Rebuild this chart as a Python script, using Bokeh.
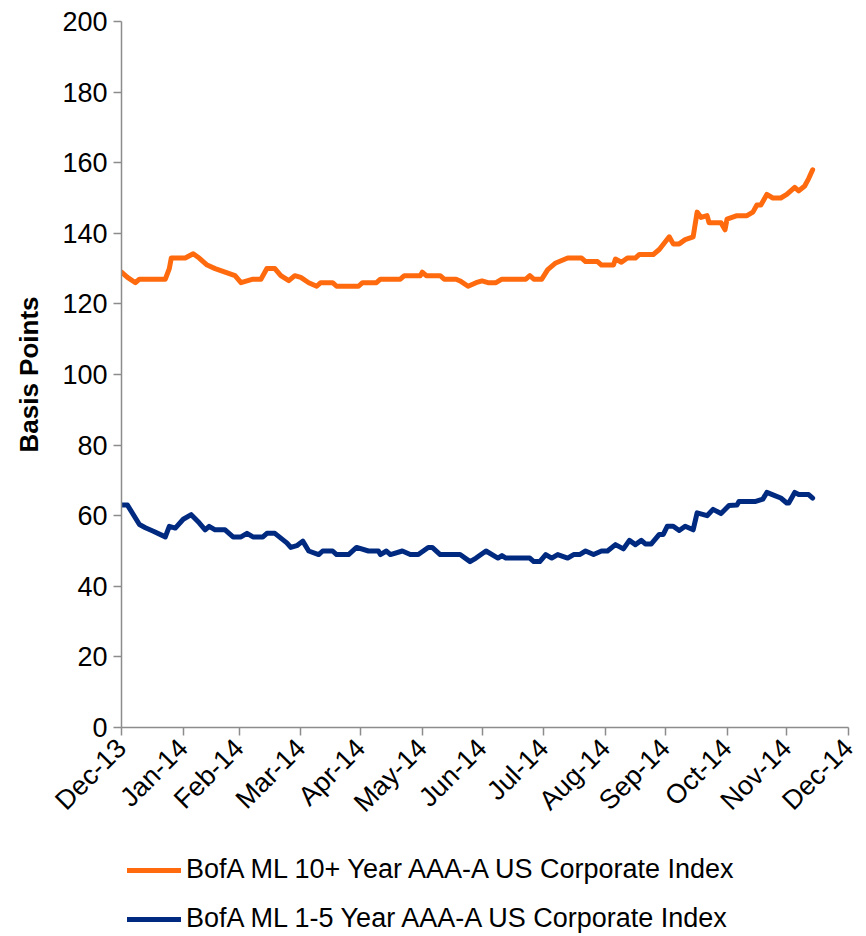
import pandas as pd
from bokeh.plotting import figure
from bokeh.layouts import column
from bokeh.models import (Range1d, FixedTicker, DatetimeTickFormatter, Legend, LegendItem,
                          ColumnDataSource)
from bokeh.embed import file_html
from bokeh.resources import INLINE
import math

# ---------------- data ----------------
long_dates = [
    "2013-12-31", "2014-01-03", "2014-01-07", "2014-01-09", "2014-01-22", "2014-01-24", "2014-01-25",
    "2014-02-01", "2014-02-05", "2014-02-08", "2014-02-12", "2014-02-16", "2014-02-21", "2014-02-26",
    "2014-03-01", "2014-03-04", "2014-03-07", "2014-03-11", "2014-03-14", "2014-03-18", "2014-03-21",
    "2014-03-25", "2014-03-28", "2014-03-31", "2014-04-04", "2014-04-08", "2014-04-10", "2014-04-16",
    "2014-04-18", "2014-04-29", "2014-05-01", "2014-05-08", "2014-05-10", "2014-05-20", "2014-05-22",
    "2014-05-30", "2014-05-31", "2014-06-02", "2014-06-09", "2014-06-11", "2014-06-17", "2014-06-19",
    "2014-06-23", "2014-06-27", "2014-06-30", "2014-07-03", "2014-07-07", "2014-07-10", "2014-07-22",
    "2014-07-24", "2014-07-26", "2014-07-30", "2014-08-02", "2014-08-06", "2014-08-12", "2014-08-19",
    "2014-08-21", "2014-08-27", "2014-08-29", "2014-09-04", "2014-09-05", "2014-09-08", "2014-09-11",
    "2014-09-15", "2014-09-17", "2014-09-24", "2014-09-27", "2014-10-02", "2014-10-04", "2014-10-07",
    "2014-10-10", "2014-10-14", "2014-10-16", "2014-10-18", "2014-10-21", "2014-10-22", "2014-10-28",
    "2014-10-30", "2014-10-31", "2014-11-05", "2014-11-10", "2014-11-13", "2014-11-15", "2014-11-17",
    "2014-11-20", "2014-11-23", "2014-11-27", "2014-11-30", "2014-12-04", "2014-12-06", "2014-12-09",
    "2014-12-11", "2014-12-13",
]
long_values = [
    129, 127.5, 126, 127, 127, 130, 133,
    133, 134.2, 133, 131, 130, 129, 128,
    126, 126.5, 127, 127, 130, 130, 128,
    126.6, 128, 127.5, 126, 125, 126, 126,
    125, 125, 126, 126, 127, 127, 128,
    128, 129, 128, 128, 127, 127, 126.5,
    125, 126, 126.5, 126, 126, 127, 127,
    128, 127, 127, 129.7, 131.6, 133, 133,
    132, 132, 131, 131, 132.7, 131.8, 133,
    133, 134, 134, 135.4, 139, 137, 137,
    138.2, 139, 146, 144.5, 145, 143, 143,
    141, 144, 145, 145, 146, 148, 148,
    151, 150, 150, 151, 153, 152, 153.4,
    155.5, 158,
]

short_dates = [
    "2013-12-31", "2014-01-03", "2014-01-09", "2014-01-12", "2014-01-16", "2014-01-22", "2014-01-24",
    "2014-01-27", "2014-01-31", "2014-02-04", "2014-02-08", "2014-02-11", "2014-02-13", "2014-02-16",
    "2014-02-21", "2014-02-25", "2014-03-01", "2014-03-04", "2014-03-07", "2014-03-12", "2014-03-14",
    "2014-03-18", "2014-03-24", "2014-03-26", "2014-03-29", "2014-04-01", "2014-04-04", "2014-04-09",
    "2014-04-11", "2014-04-16", "2014-04-18", "2014-04-24", "2014-04-28", "2014-05-04", "2014-05-09",
    "2014-05-10", "2014-05-13", "2014-05-15", "2014-05-21", "2014-05-25", "2014-05-29", "2014-06-03",
    "2014-06-05", "2014-06-09", "2014-06-19", "2014-06-24", "2014-06-27", "2014-07-02", "2014-07-08",
    "2014-07-10", "2014-07-12", "2014-07-24", "2014-07-26", "2014-07-29", "2014-08-01", "2014-08-04",
    "2014-08-07", "2014-08-12", "2014-08-15", "2014-08-18", "2014-08-21", "2014-08-25", "2014-08-29",
    "2014-09-01", "2014-09-05", "2014-09-09", "2014-09-12", "2014-09-15", "2014-09-18", "2014-09-20",
    "2014-09-23", "2014-09-27", "2014-09-29", "2014-10-01", "2014-10-04", "2014-10-07", "2014-10-10",
    "2014-10-14", "2014-10-16", "2014-10-21", "2014-10-24", "2014-10-28", "2014-11-01", "2014-11-05",
    "2014-11-06", "2014-11-14", "2014-11-18", "2014-11-20", "2014-11-24", "2014-11-27", "2014-11-30",
    "2014-12-01", "2014-12-04", "2014-12-06", "2014-12-11", "2014-12-13",
]
short_values = [
    63, 63, 57.5, 56.6, 55.6, 54, 57,
    56.5, 59, 60.3, 58, 56, 57, 56,
    56, 54, 54, 55, 54, 54, 55,
    55, 52.3, 51, 51.5, 52.8, 50, 49,
    50, 50, 49, 49, 51, 50, 50,
    49, 50, 49, 50, 49, 49, 51,
    51, 49, 49, 47, 48, 50, 48,
    48.7, 48, 48, 47, 47, 49, 48,
    49, 48, 49, 49, 50, 49, 50,
    50, 51.8, 50.6, 53, 51.8, 53, 52,
    52, 54.7, 54.7, 57, 57, 55.8, 57,
    56, 60.8, 60, 61.8, 60.6, 62.9, 63,
    64, 64, 64.7, 66.6, 65.7, 65, 63.6,
    63.6, 66.6, 66, 66, 65,
]

series_names = ["BofA ML 10+ Year AAA-A US Corporate Index",
                "BofA ML 1-5 Year AAA-A US Corporate Index"]
series_colors = ["#FF6A0E", "#002A80"]

x_tick_dates = ["2013-12-31", "2014-01-31", "2014-02-28", "2014-03-31", "2014-04-30", "2014-05-31",
                "2014-06-30", "2014-07-31", "2014-08-31", "2014-09-30", "2014-10-31", "2014-11-30",
                "2014-12-31"]
y_ticks = [0, 20, 40, 60, 80, 100, 120, 140, 160, 180, 200]
y_label = "Basis Points"

# ---------------- figure ----------------
FONT = "Liberation Sans"
AXIS_COLOR = "#8C8C8C"
W = 862

def ms(s):
    return pd.Timestamp(s).value / 1e6

p = figure(width=W, height=837, x_axis_type="datetime",
           output_backend="svg", toolbar_location=None,
           x_range=Range1d(ms(x_tick_dates[0]), ms(x_tick_dates[-1])),
           y_range=Range1d(0, 200),
           min_border_left=121, min_border_right=14, min_border_top=21, min_border_bottom=110)
p.outline_line_color = None
p.grid.visible = False
p.background_fill_color = "white"
p.border_fill_color = "white"

src_long = ColumnDataSource(dict(x=pd.to_datetime(long_dates), y=long_values))
src_short = ColumnDataSource(dict(x=pd.to_datetime(short_dates), y=short_values))
r1 = p.line("x", "y", source=src_long, line_color=series_colors[0], line_width=5,
            line_join="round", line_cap="round")
r2 = p.line("x", "y", source=src_short, line_color=series_colors[1], line_width=5,
            line_join="round", line_cap="round")

# y axis
ya = p.yaxis[0]
ya.ticker = FixedTicker(ticks=y_ticks)
ya.axis_label = y_label
ya.axis_label_text_font = FONT
ya.axis_label_text_font_style = "bold"
ya.axis_label_text_font_size = "26px"
ya.axis_label_text_color = "black"
ya.axis_label_standoff = 15
ya.major_label_text_font = FONT
ya.major_label_text_font_size = "27px"
ya.major_label_text_color = "black"
ya.major_label_standoff = 6
ya.major_tick_out = 8
ya.major_tick_in = 0
ya.minor_tick_out = 0
ya.minor_tick_in = 0
ya.axis_line_color = AXIS_COLOR
ya.axis_line_width = 1.5
ya.major_tick_line_color = AXIS_COLOR
ya.major_tick_line_width = 1.5

# x axis
xa = p.xaxis[0]
xa.ticker = FixedTicker(ticks=[ms(d) for d in x_tick_dates])
xa.formatter = DatetimeTickFormatter(days="%b-%y", months="%b-%y", years="%b-%y",
                                     hours="%b-%y", hourmin="%b-%y", context=None)
xa.major_label_orientation = math.pi / 4
xa.major_label_text_font = FONT
xa.major_label_text_font_size = "27px"
xa.major_label_text_color = "black"
xa.major_label_standoff = 8
xa.major_tick_out = 8
xa.major_tick_in = 0
xa.minor_tick_out = 0
xa.minor_tick_in = 0
xa.axis_line_color = AXIS_COLOR
xa.axis_line_width = 1.5
xa.major_tick_line_color = AXIS_COLOR
xa.major_tick_line_width = 1.5

# ---------------- legend strip below the chart ----------------
lg = figure(width=W, height=97, output_backend="svg", toolbar_location=None,
            x_range=Range1d(0, 1), y_range=Range1d(0, 1),
            min_border_left=0, min_border_right=0, min_border_top=0, min_border_bottom=0)
lg.axis.visible = False
lg.grid.visible = False
lg.outline_line_color = None
lg.background_fill_color = "white"
lg.border_fill_color = "white"
# legend keys: lines kept outside the visible range so only their legend swatches show
k1 = lg.line(x=[-2, -1], y=[-2, -2], line_color=series_colors[0], line_width=5, line_cap="round")
k2 = lg.line(x=[-2, -1], y=[-2, -2], line_color=series_colors[1], line_width=5, line_cap="round")

legend = Legend(items=[LegendItem(label=series_names[0], renderers=[k1]),
                       LegendItem(label=series_names[1], renderers=[k2])],
                location=(6, 0), orientation="vertical",
                padding=0, margin=0, spacing=18,
                glyph_width=54, glyph_height=28, label_height=28,
                label_standoff=5,
                label_text_font=FONT, label_text_font_size="27px", label_text_color="black",
                border_line_color=None, background_fill_alpha=0)
lg.add_layout(legend, "center")

layout = column(p, lg, spacing=0)
open("out.html", "w").write(file_html(layout, INLINE))
